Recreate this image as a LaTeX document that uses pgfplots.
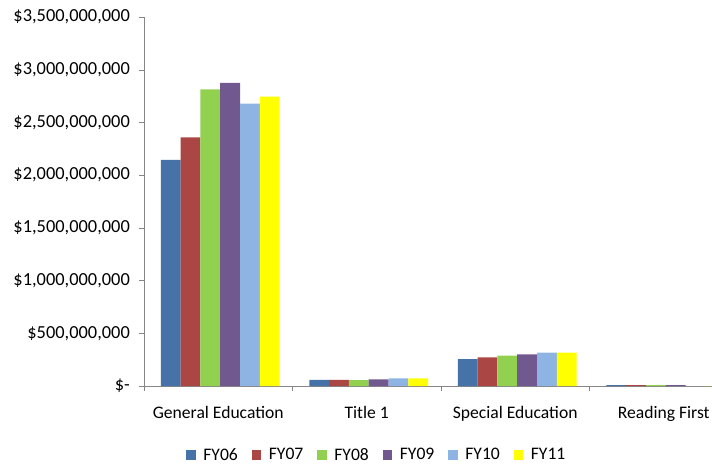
\documentclass[border=0pt]{standalone}
\usepackage{pgfplots}
\pgfplotsset{compat=1.18}
\usepackage{fontspec}
\setmainfont{Carlito}
\definecolor{c06}{HTML}{4572A7}
\definecolor{c07}{HTML}{AA4643}
\definecolor{c08}{HTML}{92D050}
\definecolor{c09}{HTML}{71588F}
\definecolor{c10}{HTML}{8EB4E3}
\definecolor{c11}{HTML}{FFFF00}
\definecolor{axgray}{HTML}{868686}
\begin{document}
\begin{tikzpicture}[font=\fontsize{17.5bp}{21bp}\selectfont]
\begin{axis}[
  name=ax,
  scale only axis,
  width=568bp, height=369bp,
  xmin=-0.5, xmax=3.325,
  ymin=0, ymax=3.5e9,
  axis x line*=bottom, axis y line*=left,
  axis line style={draw=axgray, -},
  ybar=0pt, bar width=19.8bp,
  tick align=outside,
  major tick length=5bp,
  scaled y ticks=false,
  ytick={0,5e8,1e9,1.5e9,2e9,2.5e9,3e9,3.5e9},
  yticklabels={{\$-\hspace{9bp}},{\$500,000,000},{\$1,000,000,000},{\$1,500,000,000},{\$2,000,000,000},{\$2,500,000,000},{\$3,000,000,000},{\$3,500,000,000}},
  ytick style={draw=axgray},
  yticklabel style={anchor=east, inner sep=0pt, xshift=-9bp, font=\fontsize{18.4bp}{22bp}\selectfont},
  xtick={0,1,2,3},
  xticklabels={General Education,Title 1,Special Education,Reading First},
  xtick style={draw=none},
  xticklabel style={anchor=base, inner sep=0pt, yshift=-27bp, font=\fontsize{17.6bp}{21bp}\selectfont},
  extra x ticks={-0.5,0.5,1.5,2.5},
  extra x tick labels={},
  extra x tick style={xtick style={draw=axgray}, major tick length=5bp},
  legend columns=6,
  legend style={at={(0.41,-0.187)}, anchor=center, draw=none, fill=none,
    font=\fontsize{17.6bp}{21bp}\selectfont,
    /tikz/every even column/.append style={column sep=12bp},
    cells={anchor=west}},
  legend image code/.code={\fill[#1] (0bp,-4.65bp) rectangle (9.3bp,4.65bp);
    \path (15bp,0bp);},
  every axis plot/.append style={draw=none, xshift=2bp},
]
\addplot[fill=c06] coordinates {(0,2.144e9) (1,57e6) (2,256e6) (3,8e6)};
\addplot[fill=c07] coordinates {(0,2.359e9) (1,57e6) (2,272e6) (3,8e6)};
\addplot[fill=c08] coordinates {(0,2.814e9) (1,55e6) (2,287e6) (3,8e6)};
\addplot[fill=c09] coordinates {(0,2.874e9) (1,63e6) (2,300e6) (3,8e6)};
\addplot[fill=c10] coordinates {(0,2.678e9) (1,73e6) (2,316e6) (3,0)};
\addplot[fill=c11] coordinates {(0,2.744e9) (1,73e6) (2,316e6) (3,0)};
\legend{FY06,FY07,FY08,FY09,FY10,FY11}
\end{axis}
\pgfresetboundingbox
\path[use as bounding box] ([shift={(-144bp,-78bp)}]ax.south west) rectangle ([shift={(0bp,17bp)}]ax.north east);
\end{tikzpicture}
\end{document}
